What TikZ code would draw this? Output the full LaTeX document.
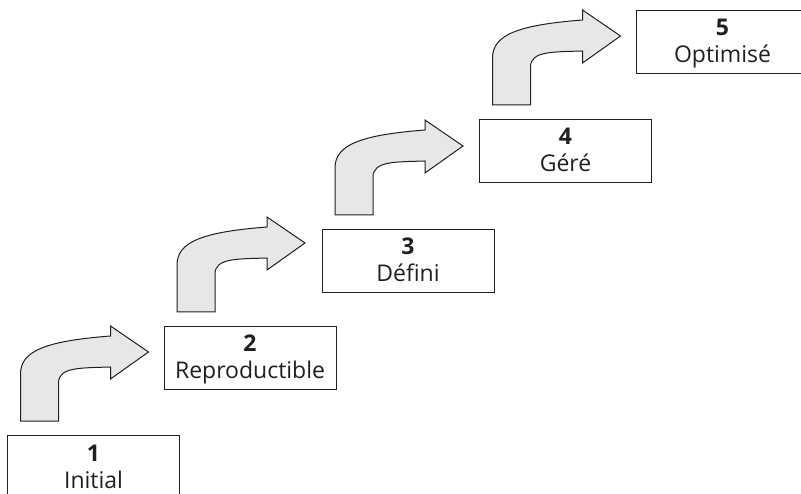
\documentclass[tikz,border=0pt]{standalone}
\usepackage{fontspec}
\setmainfont{Open Sans}
\usetikzlibrary{calc}
\definecolor{ink}{RGB}{35,31,32}
\definecolor{arrowfill}{RGB}{230,231,232}
\begin{document}
\begin{tikzpicture}[x=1pt,y=-1pt,
  stagebox/.style={draw=ink, line width=1.1pt, fill=white,
    minimum width=172pt, minimum height=63pt, inner sep=0pt, anchor=north west},
  stagenum/.style={anchor=base, inner sep=0pt, text=ink,
    font=\fontsize{23}{27}\selectfont\bfseries},
  stagename/.style={anchor=base, inner sep=0pt, text=ink,
    font=\fontsize{23}{27}\selectfont},
  bentarrow/.pic={
    \filldraw[draw=ink, fill=arrowfill, line width=1pt, line join=miter]
      (0,0) -- (0,-47)
      .. controls (0,-70) and (25,-80) .. (90,-85)
      -- (90,-95) -- (128,-69) -- (90,-42) -- (90,-54)
      .. controls (60,-53) and (38,-54) .. (38,-38)
      -- (38,0) -- cycle;
  }
]
\useasboundingbox (0,0) rectangle (801,494);
\clip (0,0) rectangle (801,494);

% the five maturity levels, climbing to the upper right
\node[stagebox] (b1) at (7,435) {};
\node[stagebox] (b2) at (163.5,326) {};
\node[stagebox] (b3) at (321.5,229) {};
\node[stagebox] (b4) at (479,119) {};
\node[stagebox] (b5) at (636,10) {};

\foreach \b/\n/\t in {b1/1/Initial, b2/2/Reproductible, b3/3/Défini,
                      b4/4/Géré, b5/5/Optimisé}{
  \node[stagenum]  (\b num)  at ($(\b.north)+(0,26)$) {\n};
  \node[stagename] (\b name) at ($(\b.north)+(0,53)$) {\t};
}

% curved arrows leading from each level up to the next
\foreach \b in {b1,b2,b3,b4}{
  \pic at ($(\b.north west)+(13.5,-14)$) {bentarrow};
}
\end{tikzpicture}
\end{document}
